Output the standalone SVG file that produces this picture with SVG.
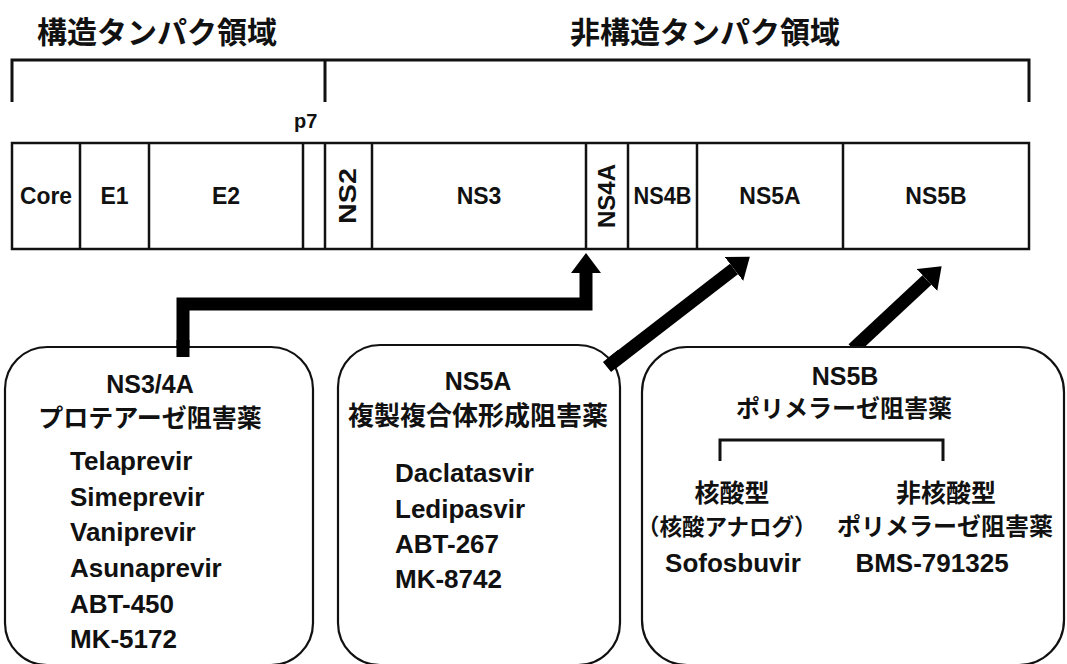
<svg xmlns="http://www.w3.org/2000/svg" width="1067" height="664" viewBox="0 0 1067 664">
<style>
.jp{font-family:"Noto Sans CJK JP","Noto Sans CJK SC",sans-serif;font-weight:bold;fill:#111}
.en{font-family:"Liberation Sans",Arial,sans-serif;font-weight:bold;fill:#111}
.seg{fill:#fff;stroke:#111;stroke-width:2.5}
.div{stroke:#111;stroke-width:2.5}
.br{fill:none;stroke:#111;stroke-width:3}
.card{fill:#fff;stroke:#111;stroke-width:2.2}
.arr{fill:none;stroke:#000;stroke-width:13}
.c{text-anchor:middle}
</style>
<defs>
<marker id="ah" markerUnits="userSpaceOnUse" markerWidth="20" markerHeight="30" viewBox="0 0 20 30" refX="0" refY="15" orient="auto">
<path d="M0,0 L20,15 L0,30 z" fill="#000"/>
</marker>
</defs>
<rect width="1067" height="664" fill="#fff"/>
<g id="titles">
<text class="jp" x="37" y="43" font-size="30">構造タンパク領域</text>
<text class="jp" x="570" y="43" font-size="30">非構造タンパク領域</text>
<path class="br" d="M12,102 V60 H1029 V102 M325,60 V102"/>
<text class="en" x="294" y="128" font-size="20">p7</text>
</g>
<g id="genome">
<rect class="seg" x="12" y="143" width="1017" height="106"/>
<path class="div" d="M80,143V249 M149,143V249 M303,143V249 M325,143V249 M372,143V249 M586,143V249 M628,143V249 M697,143V249 M843,143V249"/>
<g class="en c" font-size="23">
<text x="46" y="204" textLength="52" lengthAdjust="spacingAndGlyphs">Core</text>
<text x="114.5" y="204">E1</text>
<text x="226" y="204">E2</text>
<text x="348" y="204" transform="rotate(-90 348 196)" textLength="56" lengthAdjust="spacingAndGlyphs">NS2</text>
<text x="479" y="204">NS3</text>
<text x="607" y="204" transform="rotate(-90 607 196)" textLength="64" lengthAdjust="spacingAndGlyphs">NS4A</text>
<text x="662.5" y="204" textLength="58" lengthAdjust="spacingAndGlyphs">NS4B</text>
<text x="770" y="204">NS5A</text>
<text x="936" y="204">NS5B</text>
</g>
</g>
<g id="connectors">
<path class="arr" d="M183,357 V304 H586 V273" marker-end="url(#ah)"/>
<path class="arr" d="M607,367 L734,269" marker-end="url(#ah)"/>
<path class="arr" d="M853,349 L927,280" marker-end="url(#ah)"/>
</g>
<g id="ns34a">
<rect class="card" x="5" y="347" width="308" height="318" rx="42"/>
<path class="arr" d="M183,340 V357"/>
<text class="en c" x="150" y="393" font-size="25">NS3/4A</text>
<text class="jp c" x="150" y="427" font-size="25">プロテアーゼ阻害薬</text>
<g class="en" font-size="26">
<text x="70" y="470">Telaprevir</text>
<text x="70" y="506">Simeprevir</text>
<text x="70" y="541">Vaniprevir</text>
<text x="70" y="577">Asunaprevir</text>
<text x="70" y="613">ABT-450</text>
<text x="70" y="648">MK-5172</text>
</g>
</g>
<g id="ns5a">
<rect class="card" x="338" y="345" width="282" height="320" rx="42"/>
<path class="arr" d="M607,367 L622,355"/>
<text class="en c" x="478" y="390" font-size="25">NS5A</text>
<text class="jp c" x="478" y="425" font-size="26">複製複合体形成阻害薬</text>
<g class="en" font-size="26">
<text x="395" y="482">Daclatasvir</text>
<text x="395" y="518">Ledipasvir</text>
<text x="395" y="553">ABT-267</text>
<text x="395" y="588">MK-8742</text>
</g>
</g>
<g id="ns5b">
<rect class="card" x="642" y="347" width="422" height="318" rx="45"/>
<text class="en c" x="845" y="385" font-size="25">NS5B</text>
<text class="jp c" x="844" y="417" font-size="24">ポリメラーゼ阻害薬</text>
<path class="br" d="M720,461 V440 H943 V461" stroke-width="2.5"/>
<text class="jp c" x="732" y="502" font-size="25">核酸型</text>
<text class="jp" x="637" y="535" font-size="22.5">（核酸アナログ）</text>
<text class="jp c" x="946" y="502" font-size="25">非核酸型</text>
<text class="jp c" x="945" y="535" font-size="24">ポリメラーゼ阻害薬</text>
<text class="en c" x="733" y="572" font-size="26">Sofosbuvir</text>
<text class="en c" x="932" y="572" font-size="26">BMS-791325</text>
</g>
</svg>
